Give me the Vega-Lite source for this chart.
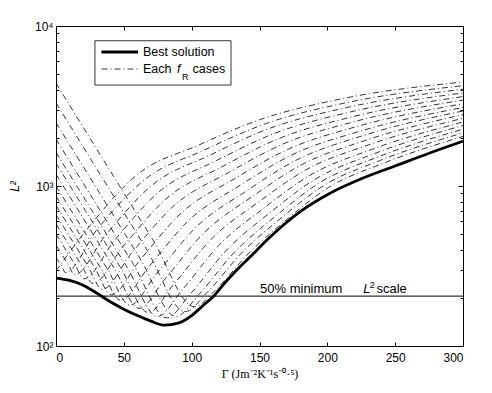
{
  "$schema": "https://vega.github.io/schema/vega-lite/v6.json",
  "width": 407,
  "height": 320,
  "autosize": {"type": "none"},
  "padding": {"left": 56, "top": 26, "right": 29, "bottom": 47},
  "background": "white",
  "config": {
    "view": {"stroke": "black", "strokeWidth": 1},
    "font": "Liberation Sans",
    "axis": {"labelFont": "Liberation Sans", "labelFontSize": 12, "labelColor": "black", "domainColor": "black", "tickColor": "black", "grid": false, "titleColor": "black", "tickWidth": 1}
  },
  "datasets": {
    "curves": [
      {"fR": 0, "gamma": 0, "L2": 295}, {"fR": 0, "gamma": 24, "L2": 551}, {"fR": 0, "gamma": 60, "L2": 1180}, {"fR": 0, "gamma": 105, "L2": 1799}, {"fR": 0, "gamma": 150, "L2": 2594}, {"fR": 0, "gamma": 210, "L2": 3499}, {"fR": 0, "gamma": 300, "L2": 4467},
      {"fR": 1, "gamma": 0, "L2": 357}, {"fR": 1, "gamma": 4.8, "L2": 308}, {"fR": 1, "gamma": 6.8, "L2": 288}, {"fR": 1, "gamma": 30.3, "L2": 535}, {"fR": 1, "gamma": 65.4, "L2": 1096}, {"fR": 1, "gamma": 109.4, "L2": 1679}, {"fR": 1, "gamma": 153.4, "L2": 2432}, {"fR": 1, "gamma": 212, "L2": 3289}, {"fR": 1, "gamma": 300, "L2": 4236},
      {"fR": 2, "gamma": 0, "L2": 428}, {"fR": 2, "gamma": 9.5, "L2": 317}, {"fR": 2, "gamma": 13.6, "L2": 279}, {"fR": 2, "gamma": 36.5, "L2": 492}, {"fR": 2, "gamma": 70.9, "L2": 1014}, {"fR": 2, "gamma": 113.8, "L2": 1563}, {"fR": 2, "gamma": 156.8, "L2": 2281}, {"fR": 2, "gamma": 214.1, "L2": 3090}, {"fR": 2, "gamma": 300, "L2": 4027},
      {"fR": 3, "gamma": 0, "L2": 500}, {"fR": 3, "gamma": 14.3, "L2": 319}, {"fR": 3, "gamma": 20.4, "L2": 263}, {"fR": 3, "gamma": 42.8, "L2": 454}, {"fR": 3, "gamma": 76.3, "L2": 925}, {"fR": 3, "gamma": 118.3, "L2": 1442}, {"fR": 3, "gamma": 160.2, "L2": 2118}, {"fR": 3, "gamma": 216.1, "L2": 2891}, {"fR": 3, "gamma": 300, "L2": 3819},
      {"fR": 4, "gamma": 0, "L2": 579}, {"fR": 4, "gamma": 19, "L2": 318}, {"fR": 4, "gamma": 27.2, "L2": 246}, {"fR": 4, "gamma": 49, "L2": 415}, {"fR": 4, "gamma": 81.8, "L2": 840}, {"fR": 4, "gamma": 122.7, "L2": 1324}, {"fR": 4, "gamma": 163.6, "L2": 1968}, {"fR": 4, "gamma": 218.2, "L2": 2704}, {"fR": 4, "gamma": 300, "L2": 3622},
      {"fR": 5, "gamma": 0, "L2": 662}, {"fR": 5, "gamma": 23.8, "L2": 313}, {"fR": 5, "gamma": 34, "L2": 226}, {"fR": 5, "gamma": 55.3, "L2": 377}, {"fR": 5, "gamma": 87.2, "L2": 757}, {"fR": 5, "gamma": 127.1, "L2": 1213}, {"fR": 5, "gamma": 167, "L2": 1824}, {"fR": 5, "gamma": 220.2, "L2": 2529}, {"fR": 5, "gamma": 300, "L2": 3443},
      {"fR": 6, "gamma": 0, "L2": 757}, {"fR": 6, "gamma": 28.6, "L2": 308}, {"fR": 6, "gamma": 40.8, "L2": 209}, {"fR": 6, "gamma": 61.5, "L2": 341}, {"fR": 6, "gamma": 92.6, "L2": 681}, {"fR": 6, "gamma": 131.5, "L2": 1109}, {"fR": 6, "gamma": 170.4, "L2": 1687}, {"fR": 6, "gamma": 222.2, "L2": 2360}, {"fR": 6, "gamma": 300, "L2": 3266},
      {"fR": 7, "gamma": 0, "L2": 865}, {"fR": 7, "gamma": 33.3, "L2": 303}, {"fR": 7, "gamma": 47.6, "L2": 193}, {"fR": 7, "gamma": 67.8, "L2": 308}, {"fR": 7, "gamma": 98.1, "L2": 612}, {"fR": 7, "gamma": 135.9, "L2": 1012}, {"fR": 7, "gamma": 173.8, "L2": 1563}, {"fR": 7, "gamma": 224.3, "L2": 2203}, {"fR": 7, "gamma": 300, "L2": 3097},
      {"fR": 8, "gamma": 0, "L2": 1000}, {"fR": 8, "gamma": 38.1, "L2": 301}, {"fR": 8, "gamma": 54.4, "L2": 180}, {"fR": 8, "gamma": 74, "L2": 282}, {"fR": 8, "gamma": 103.5, "L2": 556}, {"fR": 8, "gamma": 140.4, "L2": 931}, {"fR": 8, "gamma": 177.2, "L2": 1452}, {"fR": 8, "gamma": 226.3, "L2": 2065}, {"fR": 8, "gamma": 300, "L2": 2944},
      {"fR": 9, "gamma": 0, "L2": 1183}, {"fR": 9, "gamma": 42.8, "L2": 307}, {"fR": 9, "gamma": 61.2, "L2": 172}, {"fR": 9, "gamma": 80.3, "L2": 262}, {"fR": 9, "gamma": 109, "L2": 509}, {"fR": 9, "gamma": 144.8, "L2": 861}, {"fR": 9, "gamma": 180.6, "L2": 1352}, {"fR": 9, "gamma": 228.4, "L2": 1932}, {"fR": 9, "gamma": 300, "L2": 2793},
      {"fR": 10, "gamma": 0, "L2": 1387}, {"fR": 10, "gamma": 47.6, "L2": 309}, {"fR": 10, "gamma": 68, "L2": 162}, {"fR": 10, "gamma": 86.6, "L2": 242}, {"fR": 10, "gamma": 114.4, "L2": 465}, {"fR": 10, "gamma": 149.2, "L2": 793}, {"fR": 10, "gamma": 184, "L2": 1259}, {"fR": 10, "gamma": 230.4, "L2": 1807}, {"fR": 10, "gamma": 300, "L2": 2649},
      {"fR": 11, "gamma": 0, "L2": 1622}, {"fR": 11, "gamma": 52.4, "L2": 310}, {"fR": 11, "gamma": 74.8, "L2": 153}, {"fR": 11, "gamma": 92.8, "L2": 223}, {"fR": 11, "gamma": 119.8, "L2": 424}, {"fR": 11, "gamma": 153.6, "L2": 731}, {"fR": 11, "gamma": 187.4, "L2": 1169}, {"fR": 11, "gamma": 232.4, "L2": 1690}, {"fR": 11, "gamma": 300, "L2": 2512},
      {"fR": 12, "gamma": 0, "L2": 1963}, {"fR": 12, "gamma": 57.1, "L2": 324}, {"fR": 12, "gamma": 81.6, "L2": 150}, {"fR": 12, "gamma": 99.1, "L2": 212}, {"fR": 12, "gamma": 125.3, "L2": 394}, {"fR": 12, "gamma": 158, "L2": 684}, {"fR": 12, "gamma": 190.8, "L2": 1099}, {"fR": 12, "gamma": 234.5, "L2": 1592}, {"fR": 12, "gamma": 300, "L2": 2388},
      {"fR": 13, "gamma": 0, "L2": 2489}, {"fR": 13, "gamma": 61.9, "L2": 353}, {"fR": 13, "gamma": 88.4, "L2": 153}, {"fR": 13, "gamma": 105.3, "L2": 210}, {"fR": 13, "gamma": 130.7, "L2": 379}, {"fR": 13, "gamma": 162.5, "L2": 655}, {"fR": 13, "gamma": 194.2, "L2": 1047}, {"fR": 13, "gamma": 236.5, "L2": 1510}, {"fR": 13, "gamma": 300, "L2": 2265},
      {"fR": 14, "gamma": 0, "L2": 3304}, {"fR": 14, "gamma": 66.6, "L2": 404}, {"fR": 14, "gamma": 95.2, "L2": 164}, {"fR": 14, "gamma": 111.6, "L2": 217}, {"fR": 14, "gamma": 136.2, "L2": 377}, {"fR": 14, "gamma": 166.9, "L2": 641}, {"fR": 14, "gamma": 197.6, "L2": 1009}, {"fR": 14, "gamma": 238.6, "L2": 1442}, {"fR": 14, "gamma": 300, "L2": 2148},
      {"fR": 15, "gamma": 0, "L2": 4385}, {"fR": 15, "gamma": 71.4, "L2": 461}, {"fR": 15, "gamma": 102, "L2": 176}, {"fR": 15, "gamma": 117.8, "L2": 225}, {"fR": 15, "gamma": 141.6, "L2": 376}, {"fR": 15, "gamma": 171.3, "L2": 630}, {"fR": 15, "gamma": 201, "L2": 980}, {"fR": 15, "gamma": 240.6, "L2": 1380}, {"fR": 15, "gamma": 300, "L2": 2042}
    ],
    "best": [
      {"gamma": 0, "L2": 266}, {"gamma": 10, "L2": 257}, {"gamma": 20, "L2": 240}, {"gamma": 30, "L2": 214}, {"gamma": 40, "L2": 189}, {"gamma": 50, "L2": 170}, {"gamma": 60, "L2": 155}, {"gamma": 70, "L2": 143}, {"gamma": 80, "L2": 135}, {"gamma": 90, "L2": 139}, {"gamma": 100, "L2": 155}, {"gamma": 108, "L2": 178}, {"gamma": 116, "L2": 204}, {"gamma": 125, "L2": 251}, {"gamma": 131, "L2": 285}, {"gamma": 143, "L2": 360}, {"gamma": 158, "L2": 482}, {"gamma": 180, "L2": 692}, {"gamma": 202, "L2": 902}, {"gamma": 225, "L2": 1109}, {"gamma": 250, "L2": 1334}, {"gamma": 275, "L2": 1603}, {"gamma": 300, "L2": 1905}
    ],
    "one": [{}]
  },
  "layer": [
    {
      "data": {"name": "curves"},
      "mark": {"type": "line", "interpolate": "monotone", "color": "black", "strokeWidth": 0.8, "strokeDash": [6, 3, 1, 3], "clip": true},
      "encoding": {
        "x": {"field": "gamma", "type": "quantitative", "scale": {"domain": [0, 300], "nice": false, "zero": false},
          "axis": {"orient": "bottom", "values": [0, 50, 100, 150, 200, 250, 300], "tickSize": -4, "labelPadding": 10, "domain": false,
            "title": "Γ (Jm⁻²K⁻¹s⁻⁰·⁵)", "titleFont": "Liberation Serif", "titleFontSize": 12, "titleFontWeight": "normal", "titlePadding": 5}},
        "y": {"field": "L2", "type": "quantitative", "scale": {"type": "log", "domain": [100, 10000], "nice": false},
          "axis": {"orient": "left", "values": [100, 200, 300, 400, 500, 600, 700, 800, 900, 1000, 2000, 3000, 4000, 5000, 6000, 7000, 8000, 9000, 10000],
            "labelExpr": "datum.value == 100 ? '10²' : datum.value == 1000 ? '10³' : datum.value == 10000 ? '10⁴' : ''",
            "tickSize": {"condition": {"test": "datum.value == 100 || datum.value == 1000 || datum.value == 10000", "value": -5}, "value": -3},
            "labelPadding": 8, "domain": false,
            "title": "L²", "titleFont": "Liberation Sans", "titleFontStyle": "italic", "titleFontWeight": "normal", "titleFontSize": 12,
            "titleX": -38, "titleY": 160, "titleAngle": -90, "titleAlign": "center", "titleBaseline": "alphabetic"}},
        "detail": {"field": "fR", "type": "nominal"}
      }
    },
    {
      "data": {"name": "best"},
      "mark": {"type": "line", "interpolate": "monotone", "color": "black", "strokeWidth": 2.8},
      "encoding": {
        "x": {"field": "gamma", "type": "quantitative", "scale": {"domain": [0, 300], "nice": false, "zero": false},
          "axis": {"orient": "top", "values": [0, 50, 100, 150, 200, 250, 300], "tickSize": -4, "labels": false, "domain": false, "title": null}},
        "y": {"field": "L2", "type": "quantitative", "scale": {"type": "log", "domain": [100, 10000], "nice": false},
          "axis": {"orient": "right", "values": [100, 200, 300, 400, 500, 600, 700, 800, 900, 1000, 2000, 3000, 4000, 5000, 6000, 7000, 8000, 9000, 10000],
            "tickSize": {"condition": {"test": "datum.value == 100 || datum.value == 1000 || datum.value == 10000", "value": -5}, "value": -3},
            "labels": false, "domain": false, "title": null}}
      }
    },
    {
      "data": {"name": "one"},
      "mark": {"type": "rule", "color": "black", "strokeWidth": 1},
      "encoding": {
        "y": {"datum": 205, "type": "quantitative", "scale": {"type": "log", "domain": [100, 10000], "nice": false}, "axis": null}
      }
    },
    {
      "data": {"name": "one"},
      "mark": {"type": "text", "text": "50% minimum", "align": "left", "baseline": "alphabetic", "font": "Liberation Sans", "fontSize": 13, "color": "black"},
      "encoding": {
        "x": {"datum": 150.4, "type": "quantitative", "axis": null},
        "y": {"datum": 214, "type": "quantitative", "scale": {"type": "log"}, "axis": null}
      }
    },
    {
      "data": {"name": "one"},
      "mark": {"type": "text", "text": "L", "align": "left", "baseline": "alphabetic", "font": "Liberation Sans", "fontStyle": "italic", "fontSize": 13, "color": "black"},
      "encoding": {
        "x": {"datum": 226.5, "type": "quantitative", "axis": null},
        "y": {"datum": 214, "type": "quantitative", "scale": {"type": "log"}, "axis": null}
      }
    },
    {
      "data": {"name": "one"},
      "mark": {"type": "text", "text": "2", "align": "left", "baseline": "alphabetic", "font": "Liberation Sans", "fontSize": 9, "color": "black"},
      "encoding": {
        "x": {"datum": 231.3, "type": "quantitative", "axis": null},
        "y": {"datum": 231, "type": "quantitative", "scale": {"type": "log"}, "axis": null}
      }
    },
    {
      "data": {"name": "one"},
      "mark": {"type": "text", "text": "scale", "align": "left", "baseline": "alphabetic", "font": "Liberation Sans", "fontSize": 13, "color": "black"},
      "encoding": {
        "x": {"datum": 236.2, "type": "quantitative", "axis": null},
        "y": {"datum": 214, "type": "quantitative", "scale": {"type": "log"}, "axis": null}
      }
    },
    {
      "data": {"name": "one"},
      "mark": {"type": "rect", "fill": "white", "stroke": "black", "strokeWidth": 0.8},
      "encoding": {
        "x": {"datum": 28.7, "type": "quantitative", "axis": null},
        "x2": {"datum": 129},
        "y": {"datum": 8090, "type": "quantitative", "scale": {"type": "log"}, "axis": null},
        "y2": {"datum": 4276}
      }
    },
    {
      "data": {"name": "one"},
      "mark": {"type": "rule", "color": "black", "strokeWidth": 2.8},
      "encoding": {
        "x": {"datum": 33.5, "type": "quantitative", "axis": null},
        "x2": {"datum": 60.5},
        "y": {"datum": 6880, "type": "quantitative", "scale": {"type": "log"}, "axis": null}
      }
    },
    {
      "data": {"name": "one"},
      "mark": {"type": "rule", "color": "black", "strokeWidth": 0.8, "strokeDash": [6, 3, 1, 3]},
      "encoding": {
        "x": {"datum": 33.5, "type": "quantitative", "axis": null},
        "x2": {"datum": 60.5},
        "y": {"datum": 5383, "type": "quantitative", "scale": {"type": "log"}, "axis": null}
      }
    },
    {
      "data": {"name": "one"},
      "mark": {"type": "text", "text": "Best solution", "align": "left", "baseline": "middle", "font": "Liberation Sans", "fontSize": 12.5, "color": "black"},
      "encoding": {
        "x": {"datum": 64.1, "type": "quantitative", "axis": null},
        "y": {"datum": 6880, "type": "quantitative", "scale": {"type": "log"}, "axis": null}
      }
    },
    {
      "data": {"name": "one"},
      "mark": {"type": "text", "text": "Each", "align": "left", "baseline": "middle", "font": "Liberation Sans", "fontSize": 12.5, "color": "black"},
      "encoding": {
        "x": {"datum": 64.1, "type": "quantitative", "axis": null},
        "y": {"datum": 5383, "type": "quantitative", "scale": {"type": "log"}, "axis": null}
      }
    },
    {
      "data": {"name": "one"},
      "mark": {"type": "text", "text": "f", "align": "left", "baseline": "middle", "font": "Liberation Sans", "fontStyle": "italic", "fontSize": 12.5, "color": "black"},
      "encoding": {
        "x": {"datum": 89.2, "type": "quantitative", "axis": null},
        "y": {"datum": 5383, "type": "quantitative", "scale": {"type": "log"}, "axis": null}
      }
    },
    {
      "data": {"name": "one"},
      "mark": {"type": "text", "text": "R", "align": "left", "baseline": "middle", "font": "Liberation Sans", "fontSize": 9, "color": "black"},
      "encoding": {
        "x": {"datum": 92.8, "type": "quantitative", "axis": null},
        "y": {"datum": 4830, "type": "quantitative", "scale": {"type": "log"}, "axis": null}
      }
    },
    {
      "data": {"name": "one"},
      "mark": {"type": "text", "text": "cases", "align": "left", "baseline": "middle", "font": "Liberation Sans", "fontSize": 12.5, "color": "black"},
      "encoding": {
        "x": {"datum": 100.7, "type": "quantitative", "axis": null},
        "y": {"datum": 5383, "type": "quantitative", "scale": {"type": "log"}, "axis": null}
      }
    }
  ],
  "resolve": {"axis": {"x": "independent", "y": "independent"}}
}
